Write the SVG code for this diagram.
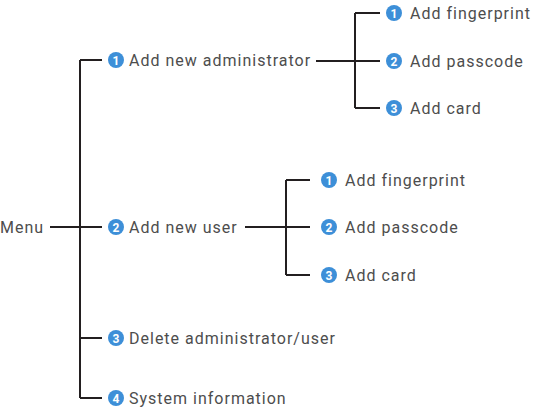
<svg xmlns="http://www.w3.org/2000/svg" width="533" height="413" viewBox="0 0 533 413">
<style>
.t{font-family:Roboto,"Liberation Sans",sans-serif;font-size:16px;letter-spacing:1px;fill:#4d4d4d;dominant-baseline:central}
.n{font-family:Roboto,"Liberation Sans",sans-serif;font-size:12px;font-weight:bold;fill:#fff;text-anchor:middle;dominant-baseline:central}
.c{fill:#3d8fd8}
.l{fill:none;stroke:#231f20;stroke-width:2}
</style>
<rect width="533" height="413" fill="#fff"/>
<g id="connectors">
<path class="l" d="M50 227H102M80 60V398M80 60H102M80 338H102M80 398H102"/>
<path class="l" d="M316 61H355M355 13V108M355 13H380M355 61H380M355 108H380"/>
<path class="l" d="M245 227H286M286 180V275M286 180H310M286 227H310M286 275H310"/>
</g>
<g id="menu"><text class="t" x="0" y="227">Menu</text></g>
<g id="admin"><circle class="c" cx="116" cy="60" r="8"/><text class="n" x="116" y="60.5">1</text><text class="t" x="129" y="60">Add new administrator</text></g>
<g id="admin-fp"><circle class="c" cx="394" cy="13" r="8"/><text class="n" x="394" y="13.5">1</text><text class="t" x="410" y="13">Add fingerprint</text></g>
<g id="admin-pc"><circle class="c" cx="394" cy="61" r="8"/><text class="n" x="394" y="61.5">2</text><text class="t" x="410" y="61">Add passcode</text></g>
<g id="admin-card"><circle class="c" cx="394" cy="108" r="8"/><text class="n" x="394" y="108.5">3</text><text class="t" x="410" y="108">Add card</text></g>
<g id="user"><circle class="c" cx="116" cy="227" r="8"/><text class="n" x="116" y="227.5">2</text><text class="t" x="129" y="227">Add new user</text></g>
<g id="user-fp"><circle class="c" cx="329" cy="180" r="8"/><text class="n" x="329" y="180.5">1</text><text class="t" x="345" y="180">Add fingerprint</text></g>
<g id="user-pc"><circle class="c" cx="329" cy="227" r="8"/><text class="n" x="329" y="227.5">2</text><text class="t" x="345" y="227">Add passcode</text></g>
<g id="user-card"><circle class="c" cx="329" cy="275" r="8"/><text class="n" x="329" y="275.5">3</text><text class="t" x="345" y="275">Add card</text></g>
<g id="delete"><circle class="c" cx="116" cy="338" r="8"/><text class="n" x="116" y="338.5">3</text><text class="t" x="129" y="338">Delete administrator/user</text></g>
<g id="sysinfo"><circle class="c" cx="116" cy="398" r="8"/><text class="n" x="116" y="398.5">4</text><text class="t" x="129" y="398">System information</text></g>
</svg>
